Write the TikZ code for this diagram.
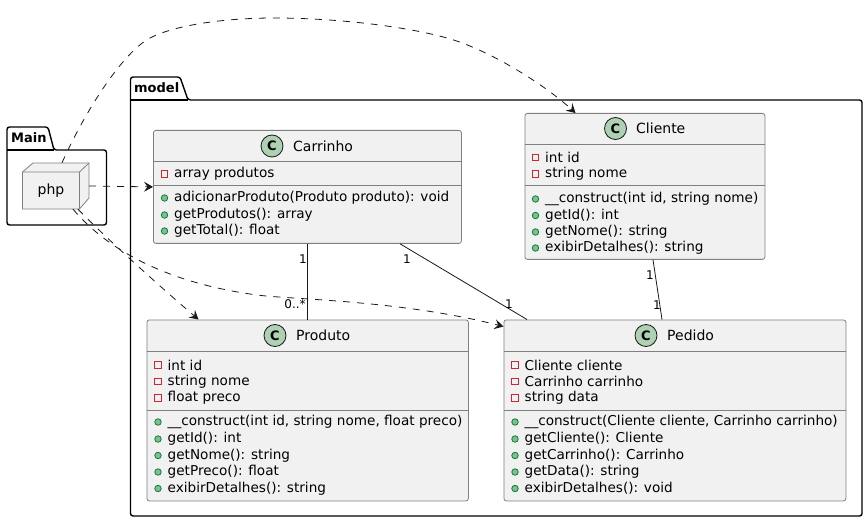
\documentclass[tikz,border=0pt]{standalone}
\usepackage{fontspec}
\setmainfont{DejaVu Sans}
\usetikzlibrary{arrows.meta,calc}
\definecolor{boxfill}{HTML}{F1F1F1}
\definecolor{boxline}{HTML}{808080}
\definecolor{inkc}{HTML}{181818}
\definecolor{iconfill}{HTML}{ADD1B2}
\definecolor{privc}{HTML}{C82930}
\definecolor{pubfill}{HTML}{84BE84}
\definecolor{publine}{HTML}{038048}
\tikzset{
  classbox/.style={draw=boxline,fill=boxfill,line width=.8pt,rounded corners=2.5pt,anchor=north west,inner sep=0pt},
  sepline/.style={draw=boxline,line width=.8pt},
  pkg/.style={draw=black,line width=1.4pt,rounded corners=2.5pt},
  member/.style={anchor=west,inner sep=0pt,font=\fontsize{13.6}{14}\selectfont,text=black},
  titletext/.style={anchor=west,inner sep=0pt,font=\fontsize{14}{14}\selectfont,text=black},
  pkgtext/.style={anchor=west,inner sep=0pt,font=\fontsize{13}{13}\selectfont\bfseries,text=black},
  mult/.style={inner sep=0pt,font=\fontsize{12}{12}\selectfont,text=black},
  dep/.style={draw=inkc,line width=.8pt,dash pattern=on 7pt off 7pt,-{Stealth[length=9pt,width=10pt,inset=3.5pt]}},
  assoc/.style={draw=inkc,line width=.8pt},
  iconc/.style={circle,draw=inkc,fill=iconfill,line width=.8pt,minimum size=22pt,inner sep=0pt,font=\fontsize{13}{13}\selectfont\bfseries},
  privm/.style={draw=privc,line width=.8pt,minimum size=6.5pt,inner sep=0pt},
  pubm/.style={circle,draw=publine,fill=pubfill,line width=.8pt,minimum size=6.5pt,inner sep=0pt},
}
\newcommand{\attr}[4]{\node[privm] (#1m) at (#2,#3) {}; \node[member] (#1) at (#2+9.5,#3) {#4};}
\newcommand{\meth}[4]{\node[pubm] (#1m) at (#2,#3) {}; \node[member] (#1) at (#2+9.5,#3) {#4};}
\begin{document}
\begin{tikzpicture}[x=1pt,y=-1pt]
\useasboundingbox (0,0) rectangle (867,521);
% packages
\draw[pkg] (7,150) -- (7,127) -- (48,127) -- (54,150) -- (106.5,150) -- (106.5,225) -- (7,225) -- cycle;
\draw[pkg,sharp corners] (7,150) -- (54,150);
\node[pkgtext] (mainlbl) at (11,138) {Main};
\draw[pkg] (130.5,100) -- (130.5,77) -- (180,77) -- (188,100) -- (862,100) -- (862,516) -- (130.5,516) -- cycle;
\draw[pkg,sharp corners] (130.5,100) -- (188,100);
\node[pkgtext] (modellbl) at (134,88) {model};
% php
\draw[classbox,rounded corners=0pt,fill=boxfill] (22.5,172) -- (33,163) -- (89,163) -- (89,198) -- (79.5,209) -- (22.5,209) -- cycle;
\draw[sepline] (22.5,172) -- (79.5,172) -- (89,163) (79.5,172) -- (79.5,209);
\node[inner sep=0pt,minimum width=57pt,minimum height=37pt] (php) at (51,190.5) {\fontsize{14}{14}\selectfont php};
% Carrinho
\node[classbox,minimum width=308pt,minimum height=113pt] (carrinho) at (153,130) {};
\draw[sepline] (153,161.5) -- (461,161.5) (153,185.5) -- (461,185.5);
\node[iconc] (c1) at (272,146) {C};
\node[titletext] (t1) at (293,146) {Carrinho};
\attr{a11}{164.5}{174}{array produtos}
\meth{m11}{164.5}{198}{adicionarProduto(Produto produto): void}
\meth{m12}{164.5}{215}{getProdutos(): array}
\meth{m13}{164.5}{231}{getTotal(): float}
% Cliente
\node[classbox,minimum width=240pt,minimum height=146pt] (cliente) at (524.5,113) {};
\draw[sepline] (524.5,144.5) -- (764.5,144.5) (524.5,185.5) -- (764.5,185.5);
\node[iconc] (c2) at (615.5,128.5) {C};
\node[titletext] (t2) at (636,128.5) {Cliente};
\attr{a21}{535.5}{157.5}{int id}
\attr{a22}{535.5}{174}{string nome}
\meth{m21}{535.5}{199}{\_\_construct(int id, string nome)}
\meth{m22}{535.5}{215.5}{getId(): int}
\meth{m23}{535.5}{232}{getNome(): string}
\meth{m24}{535.5}{248}{exibirDetalhes(): string}
% Produto
\node[classbox,minimum width=321.5pt,minimum height=181pt] (produto) at (146.5,319.5) {};
\draw[sepline] (146.5,351.5) -- (468,351.5) (146.5,410) -- (468,410);
\node[iconc] (c3) at (275,335.5) {C};
\node[titletext] (t3) at (296,335.5) {Produto};
\attr{a31}{158}{365}{int id}
\attr{a32}{158}{381.5}{string nome}
\attr{a33}{158}{398}{float preco}
\meth{m31}{158}{422}{\_\_construct(int id, string nome, float preco)}
\meth{m32}{158}{439}{getId(): int}
\meth{m33}{158}{455.5}{getNome(): string}
\meth{m34}{158}{472}{getPreco(): float}
\meth{m35}{158}{488.5}{exibirDetalhes(): string}
% Pedido
\node[classbox,minimum width=342pt,minimum height=181pt] (pedido) at (503.5,319.5) {};
\draw[sepline] (503.5,351.5) -- (845.5,351.5) (503.5,410) -- (845.5,410);
\node[iconc] (c4) at (646,335.5) {C};
\node[titletext] (t4) at (667,335.5) {Pedido};
\attr{a41}{515}{365}{Cliente cliente}
\attr{a42}{515}{381.5}{Carrinho carrinho}
\attr{a43}{515}{398}{string data}
\meth{m41}{515}{422}{\_\_construct(Cliente cliente, Carrinho carrinho)}
\meth{m42}{515}{439}{getCliente(): Cliente}
\meth{m43}{515}{455.5}{getCarrinho(): Carrinho}
\meth{m44}{515}{472}{getData(): string}
\meth{m45}{515}{488.5}{exibirDetalhes(): void}
% associations
\draw[assoc] ([xshift=154pt]carrinho.south west) -- ([xshift=160.5pt]produto.north west);
\draw[assoc] ([xshift=247pt]carrinho.south west) -- ([xshift=23.5pt]pedido.north west);
\draw[assoc] ([xshift=128.5pt]cliente.south west) -- ([xshift=158.5pt]pedido.north west);
\node[mult] (l1) at (303,259) {1};
\node[mult] (l2) at (295,304) {0..*};
\node[mult] (l3) at (407,259) {1};
\node[mult] (l4) at (509,304) {1};
\node[mult] (l5) at (650,275) {1};
\node[mult] (l6) at (657,305) {1};
% dependencies
\draw[dep] ([xshift=11pt,yshift=9pt]php.north) .. controls (88,105) and (125,51) .. (150,38) .. controls (175,25) and (225,18) .. (274,18) .. controls (330,18) and (400,25) .. (447,38) .. controls (490,50) and (545,85) .. ([xshift=51pt]cliente.north west);
\draw[dep] ([xshift=9.5pt,yshift=4.5pt]php.east) -- (carrinho.west);
\draw[dep] ([xshift=27pt]php.south) .. controls (100,232) and (150,278) .. ([xshift=52pt]produto.north west);
\draw[dep] ([xshift=22pt]php.south) .. controls (95,235) and (145,280) .. (257,295) .. controls (290,299.5) and (400,300) .. ([yshift=-7pt]pedido.north west);
\end{tikzpicture}
\end{document}
